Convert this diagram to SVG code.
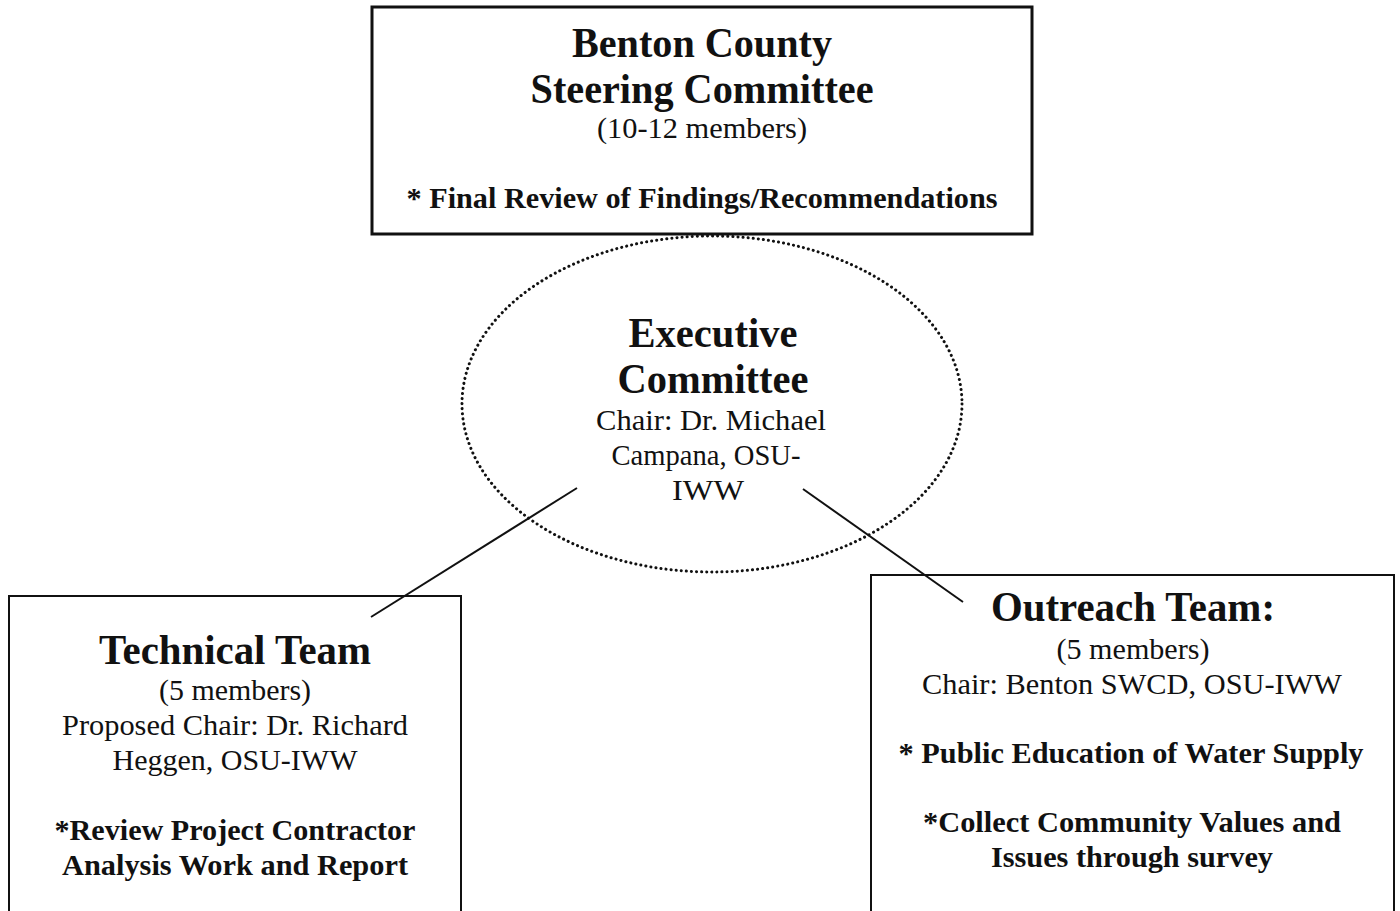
<svg xmlns="http://www.w3.org/2000/svg" width="1400" height="911" viewBox="0 0 1400 911">
<style>
text{font-family:"Liberation Serif","Times New Roman",serif;fill:#111;text-anchor:middle}
.h{font-size:42px;font-weight:bold}
.b{font-size:30px}
.bb{font-size:29px;font-weight:bold}
.box{fill:#fff;stroke:#111}
.conn{stroke:#111;stroke-width:2;fill:none}
</style>
<rect width="1400" height="911" fill="#fff"/>
<g id="steering">
<rect class="box" x="372" y="7" width="660" height="227" stroke-width="3"/>
<text class="h" x="702" y="57" textLength="260" lengthAdjust="spacingAndGlyphs">Benton County</text>
<text class="h" x="702" y="103" textLength="343" lengthAdjust="spacingAndGlyphs">Steering Committee</text>
<text class="b" x="702" y="138" textLength="210" lengthAdjust="spacingAndGlyphs">(10-12 members)</text>
<text class="bb" x="702" y="208" textLength="591" lengthAdjust="spacingAndGlyphs">* Final Review of Findings/Recommendations</text>
</g>
<g id="executive">
<ellipse cx="712" cy="404" rx="250" ry="168" fill="none" stroke="#111" stroke-width="3" stroke-dasharray="0.1 5" stroke-linecap="round"/>
<text class="h" x="713" y="347" textLength="169" lengthAdjust="spacingAndGlyphs">Executive</text>
<text class="h" x="713" y="393" textLength="191" lengthAdjust="spacingAndGlyphs">Committee</text>
<text class="b" x="711" y="430" textLength="230" lengthAdjust="spacingAndGlyphs">Chair: Dr. Michael</text>
<text class="b" x="706" y="465" textLength="189" lengthAdjust="spacingAndGlyphs">Campana, OSU-</text>
<text class="b" x="708" y="500" textLength="72" lengthAdjust="spacingAndGlyphs">IWW</text>
</g>
<g id="technical">
<rect class="box" x="9" y="596" width="452" height="330" stroke-width="2"/>
<text class="h" x="235" y="664" textLength="272" lengthAdjust="spacingAndGlyphs">Technical Team</text>
<text class="b" x="235" y="700" textLength="152" lengthAdjust="spacingAndGlyphs">(5 members)</text>
<text class="b" x="235" y="735" textLength="346" lengthAdjust="spacingAndGlyphs">Proposed Chair: Dr. Richard</text>
<text class="b" x="235" y="770" textLength="245" lengthAdjust="spacingAndGlyphs">Heggen, OSU-IWW</text>
<text class="bb" x="235" y="840" textLength="361" lengthAdjust="spacingAndGlyphs">*Review Project Contractor</text>
<text class="bb" x="235" y="875" textLength="346" lengthAdjust="spacingAndGlyphs">Analysis Work and Report</text>
</g>
<g id="outreach">
<rect class="box" x="871" y="575" width="523" height="350" stroke-width="2"/>
<text class="h" x="1133" y="621" textLength="284" lengthAdjust="spacingAndGlyphs">Outreach Team:</text>
<text class="b" x="1133" y="659" textLength="153" lengthAdjust="spacingAndGlyphs">(5 members)</text>
<text class="b" x="1132" y="694" textLength="420" lengthAdjust="spacingAndGlyphs">Chair: Benton SWCD, OSU-IWW</text>
<text class="bb" x="1131" y="763" textLength="465" lengthAdjust="spacingAndGlyphs">* Public Education of Water Supply</text>
<text class="bb" x="1132" y="832" textLength="418" lengthAdjust="spacingAndGlyphs">*Collect Community Values and</text>
<text class="bb" x="1132" y="867" textLength="282" lengthAdjust="spacingAndGlyphs">Issues through survey</text>
</g>
<g id="connectors">
<line class="conn" x1="577" y1="488" x2="371" y2="617"/>
<line class="conn" x1="803" y1="489" x2="963" y2="602"/>
</g>
</svg>
